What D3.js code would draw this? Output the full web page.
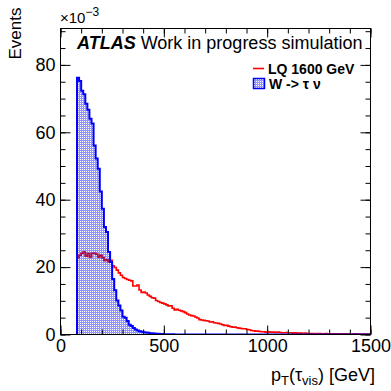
<!DOCTYPE html>
<html>
<head>
<meta charset="utf-8">
<script src="https://cdn.jsdelivr.net/npm/d3@7"></script>
<style>
  body { margin: 0; background: #fff; }
  text { font-family: "Liberation Sans", Arial, sans-serif; }
</style>
</head>
<body>
<div id="chart-area"></div>
<script>
// histogram binning (GeV)
var binStart = 80
var binWidth = 10

// W -> tau nu, events x 1e-3 per 10 GeV bin starting at 80 GeV
var wtaunu = [76.2, 75.2, 72.3, 71.3, 68.5, 66.7, 64.0, 62.6, 56.1, 52.2,
              49.2, 42.4, 37.3, 31.9, 30.4, 24.5, 21.5, 16.5, 13.1, 10.1,
              8.6, 7.1, 5.3, 5.0, 4.0, 2.9, 2.5, 1.9, 1.5, 1.2,
              1.0, 0.8, 0.7, 0.6, 0.5, 0.4, 0.35, 0.3, 0.25, 0.2,
              0.15, 0.12, 0.1, 0.08, 0.06, 0.05, 0.04, 0.03, 0.02, 0.02]

// LQ 1600 GeV, same binning
var lq1600 = [22.8, 23.5, 24.1, 24.5, 23.2, 24.0, 23.0, 24.1, 24.1, 23.8,
              23.0, 23.5, 22.8, 22.0, 22.2, 21.6, 22.0,
              20.4, 19.9, 19.1, 18.3, 17.6, 16.9, 16.6, 16.3, 16.1, 15.9,
              14.4, 14.4, 14.7, 13.2, 12.5, 12.6, 12.3, 11.7, 11.3, 10.9,
              10.8, 10.1, 9.8, 9.5, 9.3, 9.1, 8.8, 8.5, 8.5, 7.8,
              7.3, 7.5, 7.2, 7.0, 6.8,
              6.5, 6.1, 5.8, 5.6, 5.5, 5.2, 4.9, 4.4, 4.3, 4.2,
              4.1, 4.0, 3.7, 3.8, 3.5, 3.4, 3.3, 3.1, 2.9, 2.7,
              2.7, 2.5, 2.3, 2.2, 2.2, 2.0, 1.9, 1.8, 1.7, 1.7,
              1.5, 1.4, 1.2, 1.1, 1.0, 1.0, 0.9, 0.8, 0.8, 0.7,
              0.8, 0.7, 0.7, 0.7, 0.6, 0.7, 0.6, 0.5, 0.5, 0.6,
              0.5, 0.5, 0.4, 0.5, 0.4, 0.4, 0.4, 0.3, 0.4, 0.3,
              0.3, 0.3, 0.3, 0.2, 0.3, 0.3, 0.2, 0.2, 0.3, 0.2,
              0.2, 0.2, 0.2, 0.2, 0.1, 0.2, 0.2, 0.1, 0.2, 0.1,
              0.1, 0.1, 0.2, 0.1, 0.1, 0.1, 0.1, 0.1, 0.1, 0.1]

var xMajor = [0, 500, 1000, 1500]
var yMajor = [0, 20, 40, 60, 80]
var xMinor = d3.range(0, 1501, 100)
var yMinor = d3.range(0, 91, 5)

var W = 391, H = 391
var fLeft = 60.5, fRight = 370.5, fTop = 28.5, fBottom = 334.5

var svg = d3.select("#chart-area").append("svg")
    .attr("width", W).attr("height", H)

var x = d3.scaleLinear().domain([0, 1500]).range([fLeft, fRight])
var y = d3.scaleLinear().domain([0, 90.8]).range([fBottom, fTop])

function toPoints(vals) {
  var pts = vals.map((v, i) => [binStart + i * binWidth, v])
  pts.push([binStart + vals.length * binWidth, vals[vals.length - 1]])
  return pts
}

var step = d3.line().x(d => x(d[0])).y(d => y(d[1])).curve(d3.curveStepAfter)
var stepArea = d3.area().x(d => x(d[0])).y0(y(0)).y1(d => y(d[1])).curve(d3.curveStepAfter)
var wPts = toPoints(wtaunu)
var lqPts = toPoints(lq1600)

// dotted fill like ROOT's pattern
var defs = svg.append("defs")
var pat = defs.append("pattern").attr("id", "dots")
    .attr("patternUnits", "userSpaceOnUse").attr("width", 2).attr("height", 2)
pat.append("path").attr("d", "M0,0h2v1h-2z M1,1h1v1h-1z")
    .attr("fill", "rgb(120,120,255)").attr("fill-opacity", 0.8)

defs.append("clipPath").attr("id", "frame")
  .append("rect").attr("x", fLeft).attr("y", fTop)
  .attr("width", fRight - fLeft).attr("height", fBottom - fTop)
defs.append("clipPath").attr("id", "wfill")
  .append("path").attr("d", stepArea(wPts))

var plot = svg.append("g").attr("clip-path", "url(#frame)")

// LQ line
plot.append("path")
    .attr("d", step(lqPts))
    .attr("fill", "none").attr("stroke", "#ff0000").attr("stroke-width", 1.6)

// W -> tau nu filled
plot.append("path").attr("d", stepArea(wPts)).attr("fill", "url(#dots)")
// red seen through the fill
plot.append("g").attr("clip-path", "url(#wfill)")
  .append("path")
    .attr("d", step(lqPts))
    .attr("fill", "none").attr("stroke", "#a8104a").attr("stroke-width", 1.6)
var wOutline = [[binStart, 0]].concat(wPts).concat([[1500, 0]])
plot.append("path")
    .attr("d", step(wOutline))
    .attr("fill", "none").attr("stroke", "#0000ff").attr("stroke-width", 2)

// frame
svg.append("rect").attr("x", fLeft).attr("y", fTop)
    .attr("width", fRight - fLeft).attr("height", fBottom - fTop)
    .attr("fill", "none").attr("stroke", "#000").attr("stroke-width", 1)

// ticks on all sides, pointing inside
function addAxis(axis, tx, ty, cls) {
  var g = svg.append("g").attr("class", cls)
      .attr("transform", `translate(${tx}, ${ty})`).call(axis)
  g.select(".domain").remove()
  g.selectAll("line").attr("stroke", "#000")
  return g
}
addAxis(d3.axisBottom(x).tickValues(xMinor).tickSize(-5).tickFormat(""), 0, fBottom, "x minor")
addAxis(d3.axisTop(x).tickValues(xMinor).tickSize(-5).tickFormat(""), 0, fTop, "x2 minor")
addAxis(d3.axisTop(x).tickValues(xMajor).tickSize(-9).tickFormat(""), 0, fTop, "x2 major")
addAxis(d3.axisBottom(x).tickValues(xMajor).tickSize(-9).tickPadding(5).tickFormat(d3.format("d")), 0, fBottom, "x major")
addAxis(d3.axisLeft(y).tickValues(yMinor).tickSize(-5).tickFormat(""), fLeft, 0, "y minor")
addAxis(d3.axisRight(y).tickValues(yMinor).tickSize(-5).tickFormat(""), fRight, 0, "y2 minor")
addAxis(d3.axisRight(y).tickValues(yMajor).tickSize(-10).tickFormat(""), fRight, 0, "y2 major")
addAxis(d3.axisLeft(y).tickValues(yMajor).tickSize(-10).tickPadding(5), fLeft, 0, "y major")

svg.selectAll(".major text").attr("font-size", "18px").attr("fill", "#000")
    .attr("font-family", "Liberation Sans, Arial, sans-serif")

// exponent
var ex = svg.append("text").attr("x", 60).attr("y", 23).attr("font-size", "15px")
ex.append("tspan").text("\u00d710")
ex.append("tspan").attr("font-size", "12px").attr("dy", -7).text("\u22123")

// axis titles
svg.append("text")
    .attr("transform", "rotate(-90)")
    .attr("x", -fTop + 21).attr("y", 21)
    .attr("text-anchor", "end").attr("font-size", "17px")
    .text("Events")

var xt = svg.append("text").attr("x", 375).attr("y", 381)
    .attr("text-anchor", "end").attr("font-size", "18px")
xt.append("tspan").text("p")
xt.append("tspan").attr("font-size", "13px").attr("dy", 4).text("T")
xt.append("tspan").attr("dy", -4).text("(\u03c4")
xt.append("tspan").attr("font-size", "13px").attr("dy", 4).text("vis")
xt.append("tspan").attr("dy", -4).text(") [GeV]")

// ATLAS label
var at = svg.append("text").attr("x", 77).attr("y", 48.5).attr("font-size", "18px")
at.append("tspan").attr("font-weight", "bold").attr("font-style", "italic").text("ATLAS")
at.append("tspan").text(" Work in progress simulation")

// legend
var leg = svg.append("g")
leg.append("line").attr("x1", 253).attr("x2", 264).attr("y1", 68.5).attr("y2", 68.5)
    .attr("stroke", "#ff0000").attr("stroke-width", 1.6)
leg.append("text").attr("x", 268).attr("y", 73.5).attr("font-size", "14px")
    .attr("font-weight", "bold").text("LQ 1600 GeV")
leg.append("rect").attr("x", 253.5).attr("y", 78.5).attr("width", 11).attr("height", 10)
    .attr("fill", "url(#dots)").attr("stroke", "#0000ff").attr("stroke-width", 1.5)
leg.append("text").attr("x", 269).attr("y", 88.5).attr("font-size", "14px")
    .attr("font-weight", "bold").text("W -> \u03c4 \u03bd")
</script>
</body>
</html>
